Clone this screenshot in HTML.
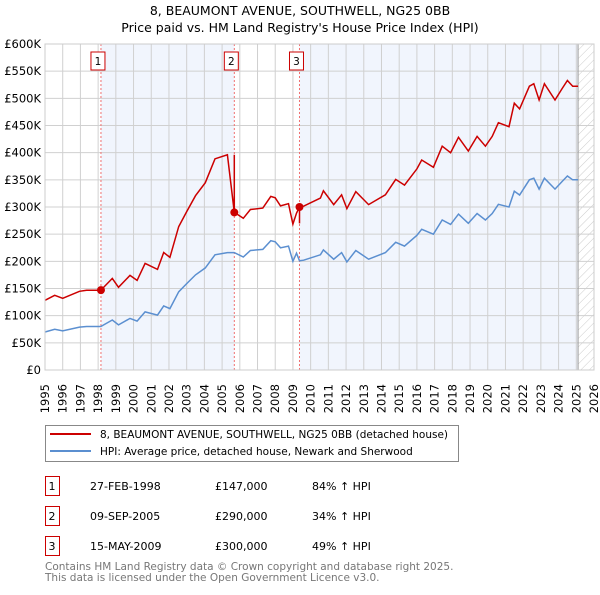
<!DOCTYPE html>
<html><head><meta charset="utf-8"><style>
body{margin:0;background:#fff;}
svg text{font-family:"DejaVu Sans","Liberation Sans",sans-serif;}
</style></head><body>
<svg id="chart" width="600" height="590" xmlns="http://www.w3.org/2000/svg">
<text x="300" y="15" text-anchor="middle" font-size="12.5">8, BEAUMONT AVENUE, SOUTHWELL, NG25 0BB</text>
<text x="300" y="32" text-anchor="middle" font-size="12.5">Price paid vs. HM Land Registry's House Price Index (HPI)</text>
<g id="plot"></g>
<g>
<rect x="45.5" y="425.5" width="413" height="36" fill="#fff" stroke="#888"/>
<line x1="50" y1="434" x2="91" y2="434" stroke="#cc0000" stroke-width="2"/>
<text x="100" y="438" font-size="10.5">8, BEAUMONT AVENUE, SOUTHWELL, NG25 0BB (detached house)</text>
<line x1="50" y1="451" x2="91" y2="451" stroke="#5b8fd0" stroke-width="2"/>
<text x="100" y="455" font-size="10.5">HPI: Average price, detached house, Newark and Sherwood</text>
</g>
<g id="table" font-size="11"></g>
<text x="45" y="570" font-size="10.5" fill="#777">Contains HM Land Registry data © Crown copyright and database right 2025.</text>
<text x="45" y="581" font-size="10.5" fill="#777">This data is licensed under the Open Government Licence v3.0.</text>
</svg>
<script>
const hpiYears=[1995.0,1995.55,1996.0,1996.95,1997.35,1998.15,1998.8,1999.15,1999.8,2000.2,2000.65,2001.35,2001.7,2002.05,2002.55,2003.0,2003.5,2004.05,2004.6,2005.3,2005.69,2006.2,2006.6,2007.3,2007.75,2008.0,2008.3,2008.75,2009.0,2009.2,2009.37,2009.6,2010.55,2010.72,2011.3,2011.75,2012.05,2012.55,2013.27,2014.22,2014.8,2015.3,2016.0,2016.27,2016.93,2017.43,2017.9,2018.35,2018.9,2019.4,2019.87,2020.25,2020.6,2021.2,2021.5,2021.8,2022.35,2022.6,2022.9,2023.2,2023.8,2024.2,2024.5,2024.8,2025.1];
const hpiValues=[70,75,72,79,80,80,92,83,95,90,107,101,118,113,144,159,175,188,212,216,216,208,220,222,238,236,225,228,200,215,201,202,212,221,204,216,199,220,204,216,235,228,248,259,250,276,268,287,270,288,276,288,305,300,329,322,350,353,333,353,333,347,357,350,350];
const saleLabels=["1","2","3"];
const saleYears=[1998.16,2005.69,2009.37];
const salePrices=[147000,290000,300000];
const saleDates=["27-FEB-1998","09-SEP-2005","15-MAY-2009"];
const salePriceText=["£147,000","£290,000","£300,000"];
const saleHpiText=["84% ↑ HPI","34% ↑ HPI","49% ↑ HPI"];
const yTicks=[0,50,100,150,200,250,300,350,400,450,500,550,600];
const yTickLabels=["£0","£50K","£100K","£150K","£200K","£250K","£300K","£350K","£400K","£450K","£500K","£550K","£600K"];
const xTicks=[1995,1996,1997,1998,1999,2000,2001,2002,2003,2004,2005,2006,2007,2008,2009,2010,2011,2012,2013,2014,2015,2016,2017,2018,2019,2020,2021,2022,2023,2024,2025,2026];

const X0=45,X1=594,Y0=370,Y1=44;
const xs=y=>X0+(y-1995)/31*(X1-X0);
const ys=v=>Y0-v/600*(Y0-Y1);
const NS="http://www.w3.org/2000/svg";
function mk(tag,attrs,parent){const e=document.createElementNS(NS,tag);for(const k in attrs)e.setAttribute(k,attrs[k]);parent.appendChild(e);return e;}
const plot=document.getElementById('plot');
function hpiAt(t){for(let i=1;i<hpiYears.length;i++){if(t<=hpiYears[i]){const f=(t-hpiYears[i-1])/(hpiYears[i]-hpiYears[i-1]);return hpiValues[i-1]+f*(hpiValues[i]-hpiValues[i-1]);}}return hpiValues[hpiValues.length-1];}

const bg=mk('rect',{x:X0,y:Y1,width:X1-X0,height:Y0-Y1,fill:'#fff'},plot);


const sh1=mk('rect',{x:xs(saleYears[0]),y:Y1,width:xs(saleYears[1])-xs(saleYears[0]),height:Y0-Y1,fill:'#eef3fc',opacity:0.8},plot);


const sh2=mk('rect',{x:xs(saleYears[2]),y:Y1,width:xs(2025.1)-xs(saleYears[2]),height:Y0-Y1,fill:'#eef3fc',opacity:0.8},plot);


const defs=mk('defs',{},plot);
const pat=mk('pattern',{id:'hatch',width:6,height:6,patternUnits:'userSpaceOnUse',patternTransform:'rotate(45)'},defs);
mk('line',{x1:0,y1:0,x2:0,y2:6,stroke:'#ccc','stroke-width':1},pat);
const ht=mk('rect',{x:xs(2025.1),y:Y1,width:X1-xs(2025.1),height:Y0-Y1,fill:'url(#hatch)'},plot);


yTicks.forEach((v,i)=>{
  const l=mk('line',{x1:X0,x2:X1,y1:ys(v),y2:ys(v),stroke:'#d0d0d0','stroke-width':1},plot);
  
  
  const t=mk('text',{x:X0-4,y:ys(v)+4,'text-anchor':'end','font-size':11.5},plot);
  
  
  t.textContent=yTickLabels[i];
});
xTicks.forEach(yr=>{
  const l=mk('line',{x1:xs(yr),x2:xs(yr),y1:Y1,y2:Y0,stroke:'#d0d0d0','stroke-width':1},plot);
  
  
  const t=mk('text',{x:0,y:0,'text-anchor':'end','font-size':11.5,transform:`translate(${xs(yr)+4},${Y0+14}) rotate(-90)`},plot);
  
  
  t.textContent=yr;
});
const vl=mk('line',{x1:xs(2025.1),x2:xs(2025.1),y1:Y1,y2:Y0,stroke:'#999','stroke-width':1},plot);


saleYears.forEach((sy,i)=>{
  const l=mk('line',{x1:xs(sy),x2:xs(sy),y1:Y1,y2:Y0,stroke:'#f07070','stroke-width':1,'stroke-dasharray':'2,2'},plot);
  
  
  const r=mk('rect',{x:xs(sy)-10,y:52,width:14,height:18,fill:'#fff',stroke:'#cc0000'},plot);
  
  
  const t=mk('text',{x:xs(sy)-3,y:65,'text-anchor':'middle','font-size':10.5},plot);
  
  
  t.textContent=saleLabels[i];
});
const hp=hpiYears.map((y,i)=>xs(y).toFixed(1)+','+ys(hpiValues[i]).toFixed(1)).join(' ');
const hl=mk('polyline',{points:hp,fill:'none',stroke:'#5b8fd0','stroke-width':1.5},plot);


const factors=saleYears.map((sy,i)=>salePrices[i]/1000/hpiAt(sy));
function factorAt(t){if(t<saleYears[1])return factors[0];if(t<saleYears[2])return factors[1];return factors[2];}
const pts=[];
hpiYears.forEach((y,i)=>{
  saleYears.forEach((sy,k)=>{if(k>0&&y>sy&&(i===0||hpiYears[i-1]<=sy)){pts.push([sy,hpiAt(sy)*factors[k-1]]);pts.push([sy,hpiAt(sy)*factors[k]]);}});
  pts.push([y,hpiValues[i]*factorAt(y)]);
});
const pl=mk('polyline',{points:pts.map(p=>xs(p[0]).toFixed(1)+','+ys(p[1]).toFixed(1)).join(' '),fill:'none',stroke:'#cc0000','stroke-width':1.5},plot);


saleYears.forEach((sy,i)=>{
  const c=mk('circle',{cx:xs(sy),cy:ys(salePrices[i]/1000),r:4,fill:'#cc0000'},plot);
  
  
});
const fr=mk('rect',{x:X0,y:Y1,width:X1-X0,height:Y0-Y1,fill:'none',stroke:'#ccc'},plot);


const tb=document.getElementById('table');
saleYears.forEach((sy,i)=>{
  const yy=476+i*30;
  const r=mk('rect',{x:45.5,y:yy+0.5,width:14,height:19,fill:'#fff',stroke:'#cc0000'},tb);
  
  
  const cols=[[52,saleLabels[i],'middle'],[90,saleDates[i],'start'],[215,salePriceText[i],'start'],[312,saleHpiText[i],'start']];
  cols.forEach(c=>{
    const t=mk('text',{x:c[0],y:yy+14,'text-anchor':c[2],'font-size':11},tb);
    
    
    t.textContent=c[1];
  });
});
</script>
</body></html>
